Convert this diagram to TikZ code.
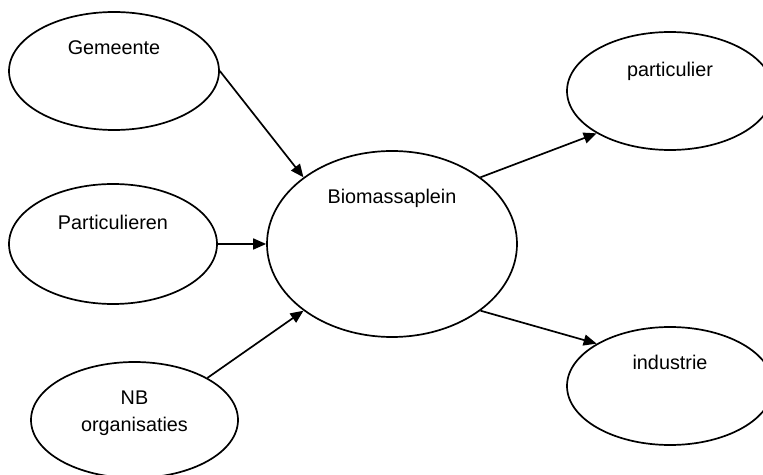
\documentclass[tikz,border=0pt]{standalone}
\usepackage{fontspec}
\setmainfont{Liberation Sans}
\usepackage{tikz}
\usetikzlibrary{positioning,shapes.geometric,arrows.meta,calc}

\begin{document}
\begin{tikzpicture}[x=1pt, y=1pt,
    blob/.style={ellipse, draw, line width=1.7pt, inner sep=0pt,
        font=\fontsize{19.8}{27}\selectfont, text height=14pt, align=center},
    flow/.style={draw, line width=1.7pt, -{Triangle[length=13pt, width=11pt]}}]

    \useasboundingbox (0,0) rectangle (763,474);
    \clip (0,0) rectangle (763,474);

    % sources
    \node[blob, minimum width=210, minimum height=118, text depth=46pt] (gemeente) at (114,403) {Gemeente};
    \node[blob, minimum width=208, minimum height=120, text depth=42pt] (particulieren) at (113,230) {Particulieren};
    \node[blob, minimum width=207, minimum height=116, text height=24pt, text depth=0pt] (nb) at (134.5,54) {NB\\organisaties};

    % the plein
    \node[blob, minimum width=250, minimum height=186, text depth=94pt] (plein) at (392,230) {Biomassaplein};

    % users
    \node[blob, minimum width=206, minimum height=118, text depth=42pt] (particulier) at (670,383) {particulier};
    \node[blob, minimum width=206, minimum height=118, text depth=46pt] (industrie) at (670,88) {industrie};

    % arrows
    \path[flow] (gemeente.east) -- (plein.143);
    \path[flow] (particulieren.east) -- (plein.west);
    \path[flow] (nb.30) -- (plein.217);
    \path[flow] (plein.37) -- (particulier.210);
    \path[flow] (plein.323) -- (industrie.150);

\end{tikzpicture}
\end{document}
